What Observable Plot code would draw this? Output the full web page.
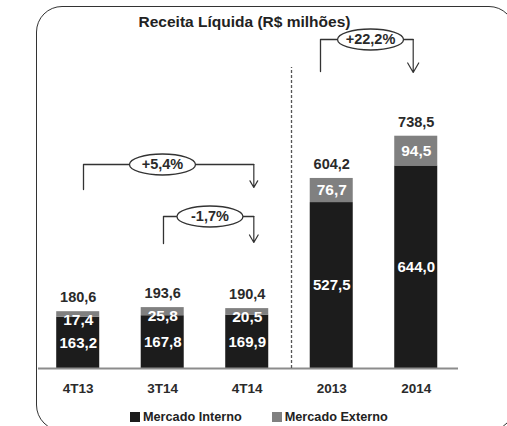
<!DOCTYPE html>
<html><head><meta charset="utf-8">
<script src="https://cdn.jsdelivr.net/npm/d3@7"></script>
<script src="https://cdn.jsdelivr.net/npm/@observablehq/plot@0.6"></script>
<style>
body{margin:0;background:#fff;}
#wrap{position:relative;width:507px;height:426px;overflow:hidden;font-family:"Liberation Sans",Arial,sans-serif;}
#chart{position:absolute;left:0;top:0;}
#frame{position:absolute;left:36px;top:6px;width:479px;height:425px;border:1px solid #333;border-radius:26px;box-sizing:border-box;pointer-events:none;}
#title{position:absolute;left:0;width:489px;top:14px;line-height:15px;text-align:center;font-weight:bold;font-size:15.5px;color:#222;}
#legend{position:absolute;left:130px;top:410px;}
#legend .lg-swatches{font-family:"Liberation Sans",Arial,sans-serif!important;font-size:12.7px!important;font-weight:bold;color:#222;margin:0!important;min-height:0!important;}
#legend .lg-swatch{margin-right:30px!important;}
#legend .lg-swatch>svg{margin-right:3px!important;}
</style></head><body>
<div id="wrap"><div id="chart"></div><div id="title">Receita Líquida (R$ milhões)</div><div id="legend"></div><div id="frame"></div></div>
<script>
// ---- data ----
const categories = ["4T13", "3T14", "4T14", "2013", "2014"];
const mercadoInterno = [163.2, 167.8, 169.9, 527.5, 644.0];
const mercadoExterno = [17.4, 25.8, 20.5, 76.7, 94.5];
const totals = [180.6, 193.6, 190.4, 604.2, 738.5];
const seriesNames = ["Mercado Interno", "Mercado Externo"];
const variationLabels = ["+5,4%", "-1,7%", "+22,2%"];

// ---- layout of annotations (in scale units) ----
const annFrom = [0.0625, 1.009, 2.867];
const annTo = [2.078, 2.078, 3.964];
const annCenter = [0.997, 1.559, 3.459];
const annLevel = [648.6, 483.2, 1046];
const annLeftEnd = [569, 397.4, 944];
const annArrowEnd = [575.4, 400.6, 941];
const separatorX = 2.524, separatorTop = 957;

// ---- styles ----
const colors = ["#1c1c1c", "#808080"];
const ink = "#2a2a2a";
const fmt = v => v.toFixed(1).replace(".", ",");

const idx = categories.map((c, i) => i);
const rows = idx.flatMap(i => [
  {i, series: seriesNames[0], value: mercadoInterno[i]},
  {i, series: seriesNames[1], value: mercadoExterno[i]}
]);
const annIdx = variationLabels.map((d, i) => i);
const bracketPts = annIdx.flatMap(k => [
  {k, x: annFrom[k], y: annLeftEnd[k]},
  {k, x: annFrom[k], y: annLevel[k]},
  {k, x: annTo[k], y: annLevel[k]}
]);
const K = 0.5522848;
const ellipse = {draw(ctx) {
  const rx = 33, ry = 10.5;
  ctx.moveTo(rx, 0);
  ctx.bezierCurveTo(rx, ry * K, rx * K, ry, 0, ry);
  ctx.bezierCurveTo(-rx * K, ry, -rx, ry * K, -rx, 0);
  ctx.bezierCurveTo(-rx, -ry * K, -rx * K, -ry, 0, -ry);
  ctx.bezierCurveTo(rx * K, -ry, rx, -ry * K, rx, 0);
  ctx.closePath();
}};
const halfBar = 0.2545;

const chart = Plot.plot({
  width: 507, height: 426,
  marginLeft: 38, marginRight: 49, marginTop: 22, marginBottom: 58,
  style: {fontFamily: "'Liberation Sans', Arial, sans-serif", fontSize: "12.5px", background: "transparent"},
  x: {type: "linear", domain: [-0.47, 4.5], axis: null},
  y: {domain: [0, 1100], axis: null},
  color: {domain: seriesNames, range: colors},
  marks: [
    Plot.rectY(rows, {x1: d => d.i - halfBar, x2: d => d.i + halfBar, y: "value", fill: "series"}),
    Plot.ruleY([0], {stroke: "#8c8c8c", strokeWidth: 2}),
    Plot.ruleX([separatorX], {y1: 0, y2: separatorTop, stroke: "#555", strokeWidth: 1.3, strokeDasharray: "3,2"}),
    Plot.axisX({ticks: idx, tickFormat: i => categories[i], tickSize: 0, tickPadding: 15, label: null, fontSize: 13.5, fontWeight: "bold", fill: ink}),
    Plot.line(bracketPts, {x: "x", y: "y", z: "k", stroke: "#333", strokeWidth: 1.3}),
    Plot.arrow(annIdx, {x1: k => annTo[k], y1: k => annLevel[k], x2: k => annTo[k], y2: k => annArrowEnd[k], stroke: "#333", strokeWidth: 1.2, headLength: 14, headAngle: 60}),
    Plot.dot(annIdx, {x: k => annCenter[k], y: k => annLevel[k], symbol: ellipse, fill: "white", stroke: "#333", strokeWidth: 1.3}),
    Plot.text(annIdx, {x: k => annCenter[k], y: k => annLevel[k], text: k => variationLabels[k], fontSize: 14.5, fontWeight: "bold", fill: ink}),
    Plot.text(idx, {x: i => i, y: i => totals[i], text: i => fmt(totals[i]), dy: -14, fontSize: 14.5, fontWeight: "bold", fill: ink}),
    Plot.text(idx, {x: i => i, y: i => Math.min(totals[i] - mercadoExterno[i] / 2, totals[i] - 26), text: i => fmt(mercadoExterno[i]), fontSize: 15.5, fontWeight: "bold", fill: "white"}),
    Plot.text(idx, {x: i => i, y: i => mercadoInterno[i] / 2, text: i => fmt(mercadoInterno[i]), fontSize: 15, fontWeight: "bold", fill: "white"})
  ]
});
document.getElementById("chart").append(chart);

const leg = Plot.legend({color: {domain: seriesNames, range: colors}, legend: "swatches", swatchSize: 10, className: "lg"});
document.getElementById("legend").append(leg);
</script>
</body></html>
